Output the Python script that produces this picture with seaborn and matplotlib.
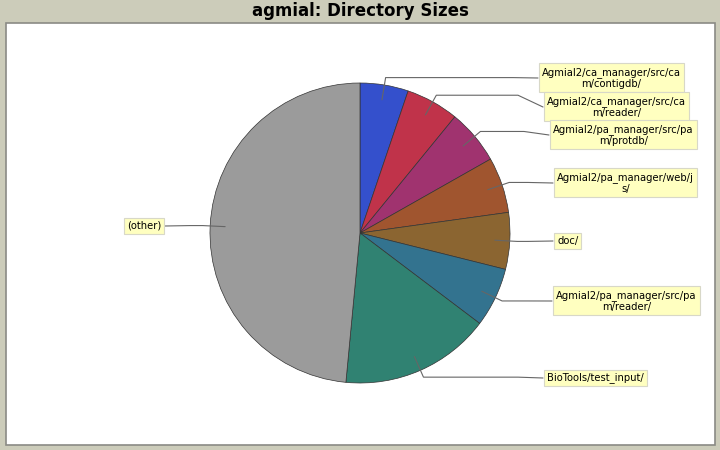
import numpy as np
import matplotlib
matplotlib.use("Agg")
import matplotlib.pyplot as plt
import seaborn as sns

# ---- data ----
categories = [
    "Agmial2/ca_manager/src/ca\nm/contigdb/",
    "Agmial2/ca_manager/src/ca\nm/reader/",
    "Agmial2/pa_manager/src/pa\nm/protdb/",
    "Agmial2/pa_manager/web/j\ns/",
    "doc/",
    "Agmial2/pa_manager/src/pa\nm/reader/",
    "BioTools/test_input/",
    "(other)",
]
sizes = [5.2, 5.7, 5.9, 6.0, 6.1, 6.4, 16.2, 48.5]
colors = ["#3450CC", "#C0334A", "#A0336F", "#A0552F", "#8B6531",
          "#33738F", "#308272", "#9B9B9B"]

# ---- layout (pixel coords, y from top) ----
label_left_x = [538, 543, 549, 553, 553, 552, 543, None]
label_right_x = [None, None, None, None, None, None, None, 165]
label_center_y = [78, 107, 135, 183, 241, 301, 378, 226]

sns.set_theme(style="white")
W, H = 720, 450
fig = plt.figure(figsize=(7.2, 4.5), dpi=100)
fig.patch.set_facecolor("#CCCCBA")

ax = fig.add_axes([0, 0, 1, 1])
ax.set_xlim(0, W)
ax.set_ylim(0, H)
ax.axis("off")

def Y(y):
    return H - y

# white plot area with border
ax.add_patch(plt.Rectangle((5.5, Y(444.5)), 709, 422, facecolor="white",
                           edgecolor="#8A8A85", linewidth=1.2, zorder=0))

fig.text(0.5, 1 - 11 / H, "agmial: Directory Sizes", ha="center", va="center",
         fontsize=12, fontweight="bold", color="#000000", family="DejaVu Sans")

cx, cy, r = 360, Y(233), 150
wedges, _ = ax.pie(sizes, colors=colors, startangle=90, counterclock=False,
                   center=(cx, cy), radius=r, frame=True,
                   wedgeprops=dict(edgecolor="#333333", linewidth=0.5))
ax.set_xlim(0, W)
ax.set_ylim(0, H)
ax.set_aspect("auto")
ax.axis("off")

total = sum(sizes)
start = 0.0
for i, (lab, v) in enumerate(zip(categories, sizes)):
    mid = start + v / total * 360 / 2
    start += v / total * 360
    th = np.deg2rad(mid)
    ax_x = cx + 0.9 * r * np.sin(th)
    ax_y = cy + 0.9 * r * np.cos(th)
    ex = cx + 1.05 * r * np.sin(th)
    ey = cy + 1.05 * r * np.cos(th)
    ly = Y(label_center_y[i])
    if label_left_x[i] is not None:
        bx = label_left_x[i]
        stub = bx - 25
        xs = [ax_x, ex, stub, bx]
        ys = [ax_y, ey, ey, ly]
        ha = "left"
        tx = bx + 4
    else:
        bx = label_right_x[i]
        stub = bx + 25
        xs = [ax_x, ex, stub, bx]
        ys = [ax_y, ey, ey, ly]
        ha = "right"
        tx = bx - 4
    ax.plot(xs, ys, color="#666666", linewidth=0.8, zorder=3)
    ax.text(tx, ly, lab, ha=ha, va="center", fontsize=7.2, multialignment="center",
            family="DejaVu Sans", color="black", zorder=5,
            bbox=dict(boxstyle="square,pad=0.3", facecolor="#FFFFC0",
                      edgecolor="#D8D8C8", linewidth=0.8))

fig.savefig("out.png", dpi=100, facecolor=fig.get_facecolor())
